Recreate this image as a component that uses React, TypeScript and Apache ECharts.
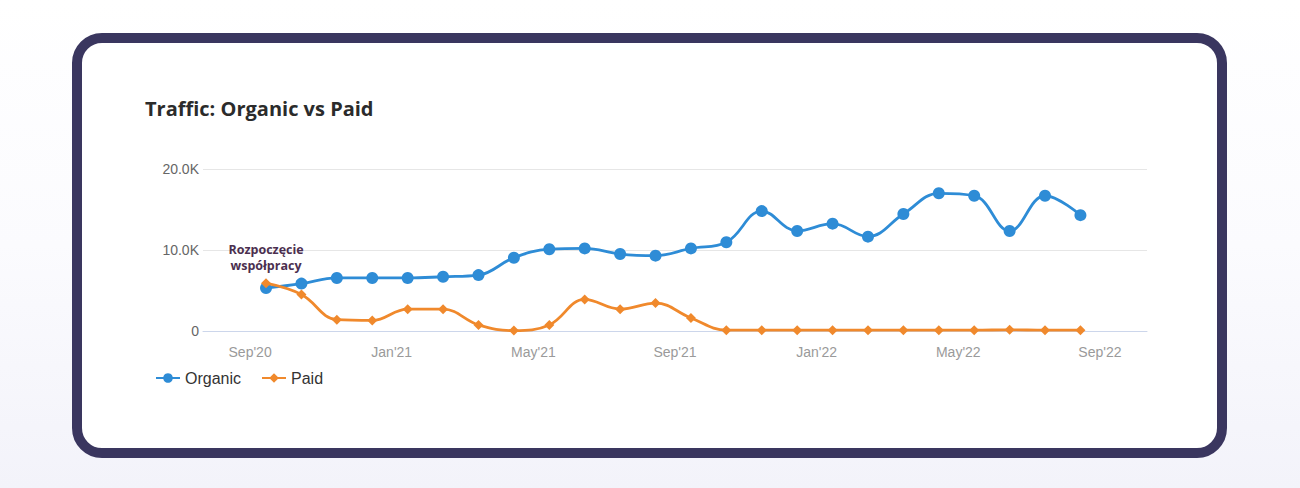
import React, { useRef, useEffect } from "react";
import * as echarts from "echarts";

// monthly points, Sep 2020 - Aug 2022
const months = [
  "2020-09", "2020-10", "2020-11", "2020-12", "2021-01", "2021-02", "2021-03", "2021-04",
  "2021-05", "2021-06", "2021-07", "2021-08", "2021-09", "2021-10", "2021-11", "2021-12",
  "2022-01", "2022-02", "2022-03", "2022-04", "2022-05", "2022-06", "2022-07", "2022-08",
];
const organic = [
  5300, 5850, 6550, 6550, 6550, 6700, 6900, 9050, 10100, 10200, 9500, 9300,
  10200, 10950, 14800, 12350, 13250, 11650, 14450, 17000, 16700, 12350, 16700, 14300,
];
const paid = [
  5900, 4500, 1400, 1300, 2700, 2700, 750, 50, 750, 3900, 2700, 3450,
  1600, 100, 100, 100, 100, 100, 100, 100, 100, 150, 100, 100,
];
const tickLabels = ["Sep'20", "Jan'21", "May'21", "Sep'21", "Jan'22", "May'22", "Sep'22"];
const annotation = "Rozpoczęcie\nwspółpracy";

const ORGANIC = "#2e8cd6";
const PAID = "#f0892c";
const FONT = "'Liberation Sans', Arial, sans-serif";

// months since Sep'20, points sit mid-month
const toX = (m: string) => {
  const [y, mo] = m.split("-").map(Number);
  return (y - 2020) * 12 + (mo - 9) + 0.45;
};

export default function App() {
  const chartRef = useRef<HTMLDivElement>(null);

  useEffect(() => {
    if (!chartRef.current) return;
    document.body.style.margin = "0";
    const chart = echarts.init(chartRef.current, null, { renderer: "svg" });

    const organicData = months.map((m, i) =>
      i === 0
        ? {
            value: [toX(m), organic[i]],
            label: {
              show: true,
              position: "top",
              distance: 9,
              formatter: annotation,
              color: "#4b2f4f",
              fontFamily: "'Open Sans', sans-serif",
              fontWeight: "bold",
              fontSize: 12.5,
              lineHeight: 16,
            },
          }
        : [toX(m), organic[i]]
    );
    const paidData = months.map((m, i) => [toX(m), paid[i]]);

    chart.setOption({
      animation: false,
      title: {
        text: "Traffic: Organic vs Paid",
        left: 140,
        top: 93,
        textStyle: {
          fontFamily: "'Open Sans', sans-serif",
          fontWeight: "bold",
          fontSize: 20,
          color: "#2b2b2b",
        },
      },
      legend: {
        left: 150,
        top: 365,
        itemWidth: 24,
        itemHeight: 12,
        itemGap: 20,
        textStyle: { fontFamily: FONT, fontSize: 16, color: "#333" },
        data: ["Organic", "Paid"],
      },
      grid: { left: 203, right: 153, top: 169, bottom: 157, containLabel: false },
      xAxis: {
        type: "value",
        min: -1.33,
        max: 25.33,
        axisLine: { show: true, lineStyle: { color: "#ccd6eb" } },
        axisTick: { show: false },
        splitLine: { show: false },
        axisLabel: {
          customValues: tickLabels.map((_, i) => i * 4),
          formatter: (v: number) => tickLabels[Math.round(v / 4)] ?? "",
          color: "#9a9a9a",
          fontFamily: FONT,
          fontSize: 14,
          margin: 14,
        },
      },
      yAxis: {
        type: "value",
        min: 0,
        max: 20000,
        interval: 10000,
        axisLine: { show: false },
        axisTick: { show: false },
        splitLine: { lineStyle: { color: "#e6e6e6", width: 1 } },
        axisLabel: {
          formatter: (v: number) => (v === 0 ? "0" : (v / 1000).toFixed(1) + "K"),
          color: "#666",
          fontFamily: FONT,
          fontSize: 14,
          margin: 4,
        },
      },
      series: [
        {
          name: "Organic",
          type: "line",
          data: organicData,
          smooth: 0.4,
          symbol: "circle",
          symbolSize: 12,
          z: 3,
          lineStyle: { color: ORGANIC, width: 2.8 },
          itemStyle: { color: ORGANIC },
        },
        {
          name: "Paid",
          type: "line",
          data: paidData,
          smooth: 0.4,
          symbol: "diamond",
          symbolSize: 10,
          z: 4,
          lineStyle: { color: PAID, width: 2.8 },
          itemStyle: { color: PAID },
        },
      ],
    });

    return () => chart.dispose();
  }, []);

  return (
    <div
      style={{
        position: "fixed",
        left: 0,
        top: 0,
        width: 1300,
        height: 488,
        background: "linear-gradient(#ffffff 0%, #fbfbfe 50%, #f3f3fa 100%)",
      }}
    >
      <div
        style={{
          position: "absolute",
          left: 72,
          top: 33,
          width: 1155,
          height: 425,
          boxSizing: "border-box",
          border: "10px solid #3a365f",
          borderRadius: 30,
          background: "#fff",
        }}
      />
      <div ref={chartRef} style={{ position: "absolute", left: 0, top: 0, width: 1300, height: 488 }} />
    </div>
  );
}
